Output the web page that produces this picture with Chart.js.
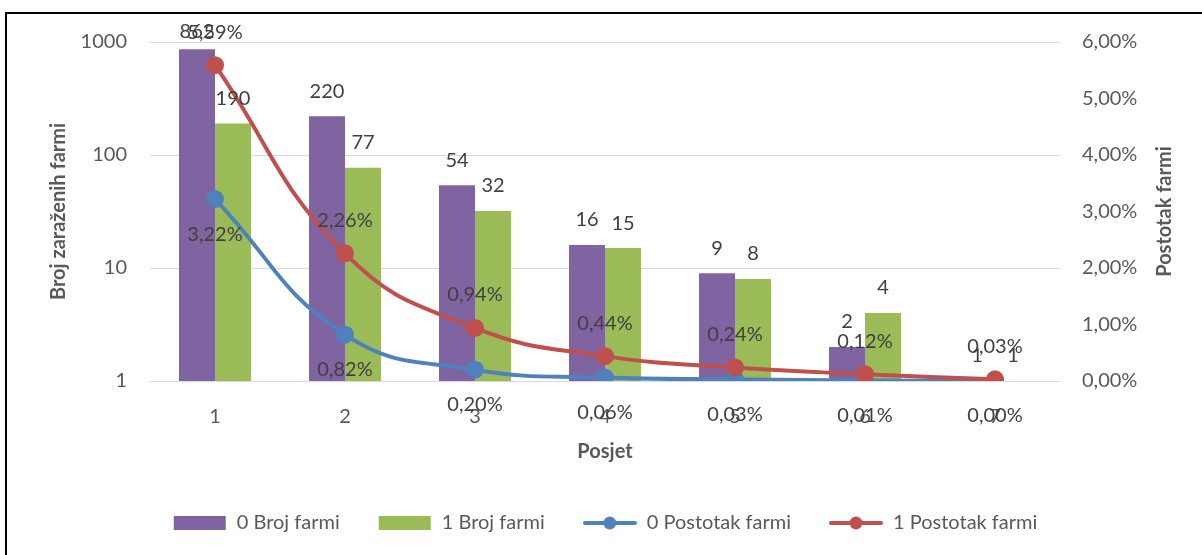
<!DOCTYPE html>
<html>
<head>
<meta charset="utf-8">
<script src="https://cdn.jsdelivr.net/npm/chart.js@4/dist/chart.umd.min.js"></script>
<style>
    html, body { margin: 0; padding: 0; background: #fff; }
    #wrap { position: relative; width: 1202px; height: 555px; }
    #frame { position: absolute; left: 5px; top: 12px; right: 0; bottom: 0; border-top: 2px solid #000; border-left: 2px solid #000; pointer-events: none; }
</style>
</head>
<body>
<div id="wrap">
    <canvas id="chart"></canvas>
    <div id="frame"></div>
</div>
<script>
const visits = ["1", "2", "3", "4", "5", "6", "7"];
const farms0 = [862, 220, 54, 16, 9, 2, 1];
const farms1 = [190, 77, 32, 15, 8, 4, 1];
const pct0 = [3.22, 0.82, 0.20, 0.06, 0.03, 0.01, 0.00];
const pct1 = [5.59, 2.26, 0.94, 0.44, 0.24, 0.12, 0.03];
const logTicks = [1, 10, 100, 1000];

const C_PURPLE = "#8064A2";
const C_GREEN = "#9BBB59";
const C_BLUE = "#4F81BD";
const C_RED = "#C0504D";
const TXT = "#595959";
const LBL = "#404040";
const FONT = "Lato, 'Open Sans', sans-serif";

const fmtPct = v => v.toFixed(2).replace(".", ",") + "%";

function legendIcon(color, isLine) {
    const c = document.createElement("canvas");
    c.width = 54;
    c.height = 16;
    const g = c.getContext("2d");
    if (isLine) {
        g.strokeStyle = color;
        g.lineWidth = 4;
        g.lineCap = "round";
        g.beginPath();
        g.moveTo(2, 8);
        g.lineTo(52, 8);
        g.stroke();
        g.fillStyle = color;
        g.beginPath();
        g.arc(27, 8, 6.5, 0, Math.PI * 2);
        g.fill();
    } else {
        g.fillStyle = color;
        g.fillRect(1, 1, 52, 14);
    }
    return c;
}

const icons = [
    legendIcon(C_PURPLE, false),
    legendIcon(C_GREEN, false),
    legendIcon(C_BLUE, true),
    legendIcon(C_RED, true)
];

// value labels like excel data labels (kept just above the plot top)
const valueLabels = {
    id: "valueLabels",
    afterDatasetsDraw(chart) {
        const ctx = chart.ctx;
        const minY = chart.chartArea.top - 10;
        ctx.save();
        ctx.font = "20px " + FONT;
        ctx.fillStyle = LBL;
        ctx.textAlign = "center";
        ctx.textBaseline = "middle";
        chart.data.datasets.forEach((ds, i) => {
            const meta = chart.getDatasetMeta(i);
            meta.data.forEach((el, j) => {
                const v = ds.data[j];
                if (ds.type === "bar") {
                    ctx.fillText(String(v), el.x, Math.max(minY, el.y - 25));
                } else {
                    ctx.fillText(fmtPct(v), el.x, Math.max(minY, el.y + ds.labelShift));
                }
            });
        });
        ctx.restore();
    }
};

// right title reads bottom-to-top in the original
const rightTitle = {
    id: "rightTitle",
    afterDraw(chart) {
        const s = chart.scales.y1;
        const ctx = chart.ctx;
        ctx.save();
        ctx.translate(s.left + 105, (chart.chartArea.top + chart.chartArea.bottom) / 2);
        ctx.rotate(-Math.PI / 2);
        ctx.font = "bold 20px " + FONT;
        ctx.fillStyle = TXT;
        ctx.textAlign = "center";
        ctx.textBaseline = "middle";
        ctx.fillText("Postotak farmi", 0, 0);
        ctx.restore();
    }
};

new Chart(document.getElementById("chart").getContext("2d"), {
    type: "bar",
    data: {
        labels: visits,
        datasets: [
            { type: "bar", label: "0 Broj farmi", data: farms0, backgroundColor: C_PURPLE, yAxisID: "y", order: 3 },
            { type: "bar", label: "1 Broj farmi", data: farms1, backgroundColor: C_GREEN, yAxisID: "y", order: 3 },
            {
                type: "line", label: "0 Postotak farmi", data: pct0, yAxisID: "y1", order: 1,
                borderColor: C_BLUE, backgroundColor: C_BLUE, pointBackgroundColor: C_BLUE, pointBorderColor: C_BLUE,
                borderWidth: 4, pointRadius: 7, tension: 0.45, labelShift: 35
            },
            {
                type: "line", label: "1 Postotak farmi", data: pct1, yAxisID: "y1", order: 0,
                borderColor: C_RED, backgroundColor: C_RED, pointBackgroundColor: C_RED, pointBorderColor: C_RED,
                borderWidth: 4, pointRadius: 7, tension: 0.45, labelShift: -33
            }
        ]
    },
    options: {
        responsive: true,
        maintainAspectRatio: false,
        animation: false,
        layout: { padding: { top: 42, left: 8, right: 0, bottom: 12 } },
        datasets: { bar: { categoryPercentage: 0.554, barPercentage: 1 } },
        scales: {
            x: {
                grid: { display: false },
                border: { color: "#d9d9d9" },
                ticks: { color: TXT, font: { family: FONT, size: 20 }, padding: 16 },
                title: { display: true, text: "Posjet", color: TXT, font: { family: FONT, size: 20, weight: "bold" }, padding: { top: 0, bottom: 11 } },
                afterFit: s => { s.height = 94; }
            },
            y: {
                type: "logarithmic",
                position: "left",
                min: 1,
                max: 1000,
                afterBuildTicks: s => { s.ticks = logTicks.map(v => ({ value: v })); },
                ticks: { color: TXT, font: { family: FONT, size: 20 }, padding: 23, callback: v => String(v) },
                grid: { color: "#d9d9d9", drawTicks: false },
                border: { display: false },
                title: { display: true, text: "Broj zaraženih farmi", color: TXT, font: { family: FONT, size: 20, weight: "bold" }, padding: { top: 39, bottom: 0 } },
                afterFit: s => { s.width = 142; }
            },
            y1: {
                position: "right",
                min: 0,
                max: 6,
                ticks: { stepSize: 1, color: TXT, font: { family: FONT, size: 20 }, padding: 22, callback: v => fmtPct(v) },
                grid: { display: false, drawTicks: false },
                border: { display: false },
                afterFit: s => { s.width = 142; }
            }
        },
        plugins: {
            legend: {
                position: "bottom",
                labels: {
                    usePointStyle: true,
                    pointStyleWidth: 54,
                    boxHeight: 16,
                    padding: 38,
                    color: TXT,
                    font: { family: FONT, size: 20 },
                    sort: (a, b) => a.datasetIndex - b.datasetIndex,
                    generateLabels: chart => Chart.defaults.plugins.legend.labels.generateLabels(chart)
                        .map(l => ({ ...l, pointStyle: icons[l.datasetIndex] }))
                }
            },
            tooltip: { enabled: false }
        }
    },
    plugins: [valueLabels, rightTitle]
});
</script>
</body>
</html>
